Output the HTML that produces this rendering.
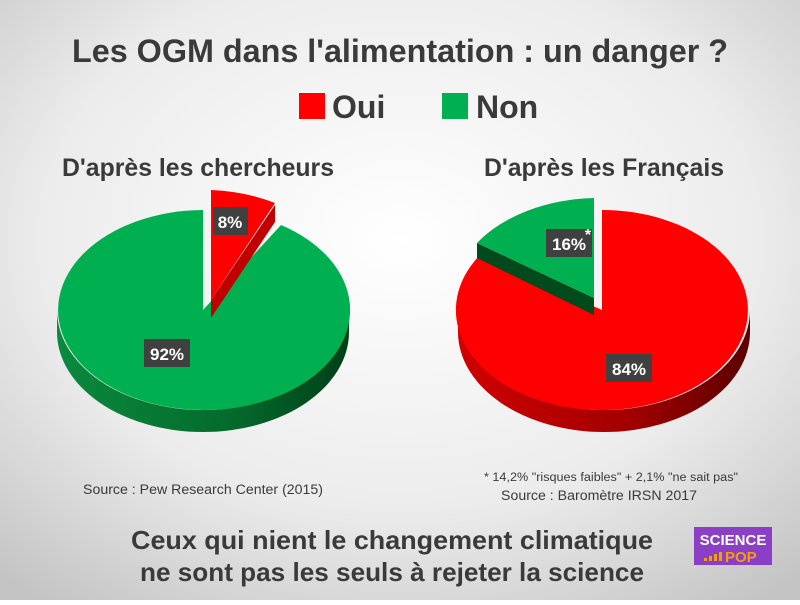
<!DOCTYPE html>
<html><head><meta charset="utf-8"><style>
body{margin:0;width:800px;height:600px;overflow:hidden;font-family:"Liberation Sans","DejaVu Sans",sans-serif}
</style></head><body>
<svg width="800" height="600" xmlns="http://www.w3.org/2000/svg">
<defs>
<radialGradient id="bg" cx="50%" cy="40%" r="75%">
<stop offset="0" stop-color="#ffffff"/><stop offset="0.6" stop-color="#ececec"/><stop offset="1" stop-color="#c4c4c4"/>
</radialGradient>
<linearGradient id="gside" x1="0" x2="1"><stop offset="0" stop-color="#0a8a3e"/><stop offset="0.6" stop-color="#046a2c"/><stop offset="1" stop-color="#003f18"/></linearGradient>
<linearGradient id="rside" x1="0" x2="1"><stop offset="0" stop-color="#d00000"/><stop offset="0.6" stop-color="#a00000"/><stop offset="1" stop-color="#5a0000"/></linearGradient>
</defs>
<rect width="800" height="600" fill="url(#bg)"/>
<g fill="#3a3a3a" font-weight="bold" font-family="Liberation Sans, DejaVu Sans, sans-serif">
<text x="400" y="62" font-size="32" text-anchor="middle" textLength="656" lengthAdjust="spacingAndGlyphs">Les OGM dans l'alimentation : un danger ?</text>
<rect x="299" y="93" width="26" height="26" fill="#ff0000"/>
<text x="332" y="118" font-size="32">Oui</text>
<rect x="442" y="93" width="26" height="26" fill="#00b050"/>
<text x="476" y="118" font-size="32">Non</text>
<text x="198" y="176" font-size="25" text-anchor="middle" textLength="272" lengthAdjust="spacingAndGlyphs">D'après les chercheurs</text>
<text x="604" y="176" font-size="25" text-anchor="middle" textLength="240" lengthAdjust="spacingAndGlyphs">D'après les Français</text>
<text x="392" y="549" font-size="26" text-anchor="middle" textLength="522" lengthAdjust="spacingAndGlyphs">Ceux qui nient le changement climatique</text>
<text x="392" y="581" font-size="26" text-anchor="middle" textLength="504" lengthAdjust="spacingAndGlyphs">ne sont pas les seuls à rejeter la science</text>
</g>
<!-- left pie -->
<path d="M57,310 A146,100 0 0 0 349,310 L349,332 A146,100 0 0 1 57,332 Z" fill="url(#gside)"/>
<path d="M203,310 L203,210 A146,100 0 1 0 281,225 Z" fill="#00b050"/>
<path d="M211,300 L275,205 L275,222 L211,318 Z" fill="#c00000"/>
<path d="M211,300 L211,190 A146,100 0 0 1 275,203 Z" fill="#ff0000"/>
<!-- right pie -->
<path d="M458,310 A146,100 0 0 0 750,310 L750,332 A146,100 0 0 1 458,332 Z" fill="url(#rside)"/>
<path d="M602,310 L602,210 A146,100 0 1 1 479,256 Z" fill="#ff0000"/>
<path d="M594,298 L477,243 L477,258 L594,315 Z" fill="#004a1c"/>
<path d="M594,298 L594,198 A146,100 0 0 0 477,243 Z" fill="#00b050"/>
<!-- labels -->
<g font-weight="bold" font-size="17" fill="#fff" text-anchor="middle">
<rect x="213" y="207" width="35" height="28" fill="#404040"/><text x="230" y="228">8%</text>
<rect x="144" y="339" width="46" height="28" fill="#404040"/><text x="167" y="360">92%</text>
<rect x="546" y="229" width="46" height="28" fill="#404040"/><text x="569" y="250">16%</text>
<text x="588" y="240" font-size="16">*</text>
<rect x="606" y="354" width="46" height="28" fill="#404040"/><text x="629" y="375">84%</text>
</g>
<g fill="#3a3a3a" font-size="13.5">
<text x="83" y="494" textLength="240" lengthAdjust="spacingAndGlyphs">Source : Pew Research Center (2015)</text>
<text x="484" y="481" font-size="11.5" textLength="254" lengthAdjust="spacingAndGlyphs">* 14,2% "risques faibles" + 2,1% "ne sait pas"</text>
<text x="501" y="500" textLength="196" lengthAdjust="spacingAndGlyphs">Source : Baromètre IRSN 2017</text>
</g>
<!-- logo -->
<rect x="694" y="527" width="78" height="38" fill="#8b3fc4"/>
<text x="733" y="545" font-size="15" font-weight="bold" fill="#fff" text-anchor="middle">SCIENCE</text>
<g fill="#f5a000"><rect x="704" y="558" width="3" height="3"/><rect x="709" y="556" width="3" height="5"/><rect x="714" y="554" width="3" height="7"/><rect x="719" y="552" width="3" height="9"/></g>
<text x="725" y="562" font-size="15" font-weight="bold" fill="#f5a000">POP</text>
</svg>
</body></html>
